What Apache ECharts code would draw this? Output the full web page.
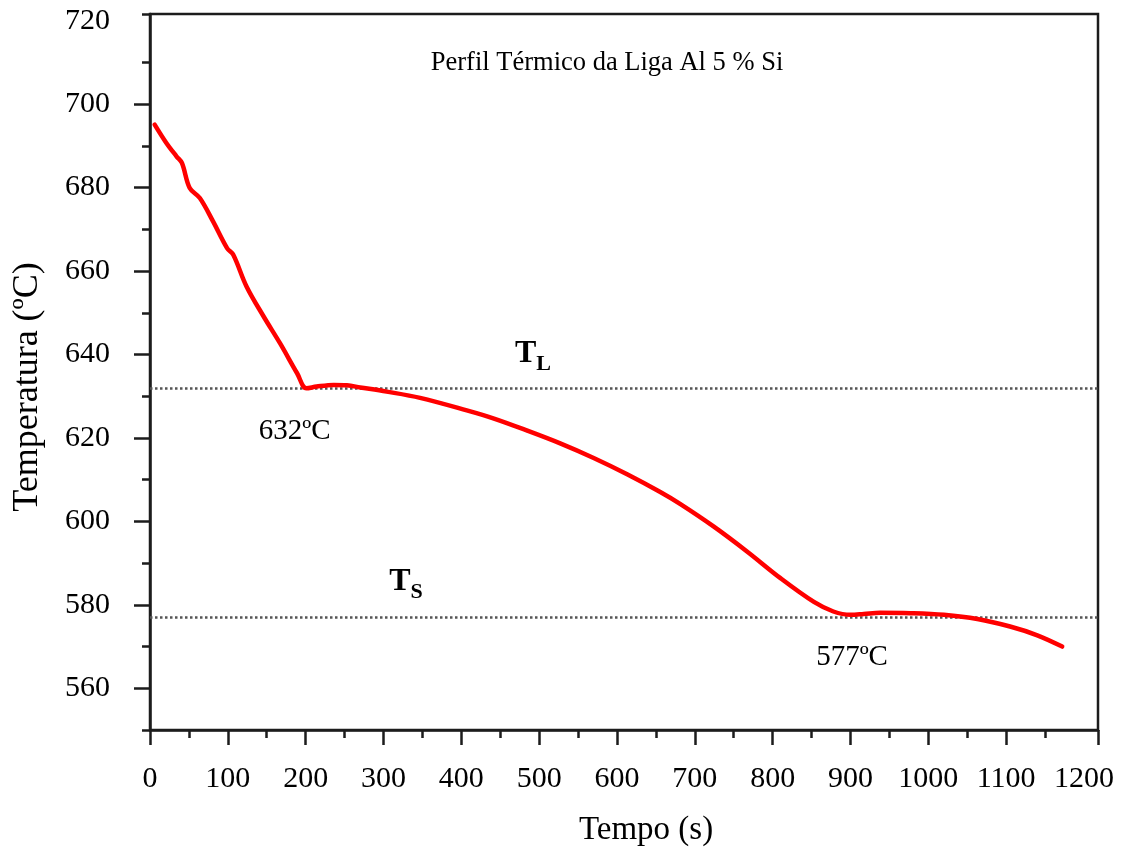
<!DOCTYPE html>
<html>
<head>
<meta charset="utf-8">
<title>Perfil Térmico da Liga Al 5 % Si</title>
<script src="https://cdn.jsdelivr.net/npm/echarts@6/dist/echarts.min.js"></script>
<style>
  html, body { margin: 0; padding: 0; background: #fff; }
  #chart { width: 1121px; height: 857px; }
</style>
</head>
<body>
<div id="chart"></div>
<script>
// data
const timeS = [6, 21, 34, 41, 51, 64, 81, 99, 107, 124, 146, 167, 189, 201, 214, 236, 253, 270, 304, 347,
  407, 441, 484, 527, 570, 613, 655, 681, 724, 767, 810, 853, 878, 900, 917, 938, 977, 1020, 1063, 1105, 1140, 1172]
const tempC = [695.1, 690.7, 687.5, 685.9, 679.9, 677.5, 671.9, 665.5, 663.9, 656.3, 649.1, 642.7, 635.5, 631.9, 632.3, 632.7, 632.6, 632.1, 631.1, 629.6,
  626.6, 624.7, 621.8, 618.7, 615.2, 611.3, 607.1, 604.2, 598.8, 592.8, 586.4, 580.7, 578.4, 577.6, 577.8, 578.1, 578.0, 577.6, 576.6, 574.8, 572.7, 570.0]

const xLabels = [0, 100, 200, 300, 400, 500, 600, 700, 800, 900, 1000, 1100, 1200]
const xMajorTicks = [0, 100, 200, 300, 400, 500, 600, 700, 800, 900, 1000, 1100, 1218]
const xMinorTicks = [50, 150, 250, 350, 450, 550, 650, 750, 850, 950, 1050, 1150]
const yLabels = [560, 580, 600, 620, 640, 660, 680, 700, 720]
const yMajorTicks = [560, 580, 600, 620, 640, 660, 680, 700]
const yMinorTicks = [550, 570, 590, 610, 630, 650, 670, 690, 710, 721.6]

const liquidus = 632
const solidus = 577
const notes = [
  { coord: [186, 621.5], text: '632ºC' },
  { coord: [902, 567.5], text: '577ºC' },
  { coord: [492, 638.8], text: '{t|T}{s|L}' },
  { coord: [329, 584.2], text: '{t|T}{s|S}' }
]

const font = '"Liberation Serif", "DejaVu Serif", serif'
const ink = '#1c1c1c'

const chart = echarts.init(document.getElementById('chart'))

chart.setOption({
  backgroundColor: '#fff',
  animation: false,
  textStyle: { fontFamily: font, color: '#000' },
  title: {
    text: 'Perfil Térmico da Liga Al 5 % Si',
    left: 602,
    top: 45,
    textAlign: 'center',
    textStyle: { fontFamily: font, fontSize: 26.5, fontWeight: 'normal', color: '#000' }
  },
  grid: {
    left: 150,
    right: 23,
    top: 14,
    bottom: 127,
    show: true,
    borderColor: ink,
    borderWidth: 2.5
  },
  xAxis: [{
    type: 'value',
    min: 0,
    max: 1218,
    position: 'bottom',
    name: 'Tempo (s)',
    nameLocation: 'middle',
    nameGap: 84,
    nameTextStyle: { fontFamily: font, fontSize: 33, color: '#000', padding: [0, 0, 0, 44] },
    splitLine: { show: false },
    axisLine: { lineStyle: { color: ink, width: 2.5 } },
    axisTick: { customValues: xMajorTicks, length: 15, lineStyle: { color: ink, width: 2.5 } },
    axisLabel: { customValues: xLabels, formatter: v => String(v), margin: 34, fontFamily: font, fontSize: 30, color: '#000' }
  }, {
    type: 'value',
    min: 0,
    max: 1218,
    position: 'bottom',
    splitLine: { show: false },
    axisLine: { show: false },
    axisTick: { customValues: xMinorTicks, length: 8, lineStyle: { color: ink, width: 2.5 } },
    axisLabel: { show: false }
  }],
  yAxis: [{
    type: 'value',
    min: 550,
    max: 721.6,
    position: 'left',
    name: 'Temperatura (ºC)',
    nameLocation: 'middle',
    nameGap: 104,
    nameTextStyle: { fontFamily: font, fontSize: 36, color: '#000', padding: [0, 30, 0, 0] },
    splitLine: { show: false },
    axisLine: { lineStyle: { color: ink, width: 2.5 } },
    axisTick: { customValues: yMajorTicks, length: 16, lineStyle: { color: ink, width: 2.5 } },
    axisLabel: { customValues: yLabels, formatter: v => String(v), margin: 40, fontFamily: font, fontSize: 30, color: '#000' }
  }, {
    type: 'value',
    min: 550,
    max: 721.6,
    position: 'left',
    splitLine: { show: false },
    axisLine: { show: false },
    axisTick: { customValues: yMinorTicks, length: 8, lineStyle: { color: ink, width: 2.5 } },
    axisLabel: { show: false }
  }],
  series: [{
    type: 'line',
    xAxisIndex: 0,
    yAxisIndex: 0,
    data: timeS.map((t, i) => [t, tempC[i]]),
    showSymbol: false,
    smooth: 0.35,
    lineStyle: { color: '#ff0000', width: 4.5, cap: 'round', join: 'round' },
    z: 3,
    markLine: {
      silent: true,
      symbol: ['none', 'none'],
      label: { show: false },
      lineStyle: { color: '#555', type: 'dotted', width: 2.5 },
      data: [{ yAxis: liquidus }, { yAxis: solidus }],
      z: 2
    },
    markPoint: {
      silent: true,
      symbol: 'circle',
      symbolSize: 0,
      data: notes.map(n => ({
        coord: n.coord,
        label: {
          show: true,
          position: 'inside',
          formatter: n.text,
          fontFamily: font,
          fontSize: 29,
          color: '#000',
          rich: {
            t: { fontFamily: font, fontSize: 32, fontWeight: 'bold', color: '#000', lineHeight: 32, padding: [0, 0, 6, 0], verticalAlign: 'bottom' },
            s: { fontFamily: font, fontSize: 22, fontWeight: 'bold', color: '#000', lineHeight: 22, verticalAlign: 'bottom' }
          }
        }
      }))
    }
  }]
})
</script>
</body>
</html>
